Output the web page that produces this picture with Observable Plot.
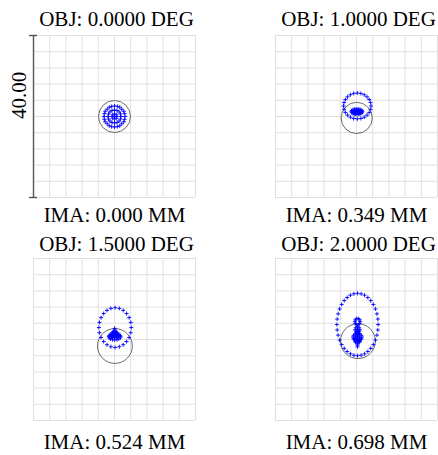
<!DOCTYPE html>
<html><head><meta charset="utf-8">
<script src="https://cdn.jsdelivr.net/npm/d3@7"></script>
<script src="https://cdn.jsdelivr.net/npm/@observablehq/plot@0.6"></script>
<style>
body{margin:0;background:#fff}
#wrap{position:relative;width:438px;height:455px;overflow:hidden;background:#fff}
#wrap svg{position:absolute;left:0;top:0}
#wrap svg text{font-family:'Liberation Serif','Times New Roman',serif}
</style></head><body><div id="wrap"></div>
<script>
// Field labels
const objLabels = ["OBJ: 0.0000 DEG", "OBJ: 1.0000 DEG", "OBJ: 1.5000 DEG", "OBJ: 2.0000 DEG"];
const imaLabels = ["IMA: 0.000 MM", "IMA: 0.349 MM", "IMA: 0.524 MM", "IMA: 0.698 MM"];
const scaleLabel = "40.00";
// grid ticks in µm (box = 40 µm)
const gridTicks = [-20, -16, -12, -8, -4, 0, 4, 8, 12, 16, 20];
// Airy circle centres and radii (µm)
const airyX = [0, 0.05, 0.1, 0.35];
const airyY = [0, -0.35, -1.6, -0.4];
const airyR = [3.95, 3.85, 4.3, 4.3];

// Spot points (µm)
const spot1 = [
 [2.6,0],[2.5,0.7],[2.3,1.3],[1.8,1.8],[1.3,2.3],[0.7,2.5],[0,2.6],[-0.7,2.5],[-1.3,2.3],[-1.8,1.8],[-2.3,1.3],[-2.5,0.7],
 [-2.6,0],[-2.5,-0.7],[-2.3,-1.3],[-1.8,-1.8],[-1.3,-2.3],[-0.7,-2.5],[0,-2.6],[0.7,-2.5],[1.3,-2.3],[1.8,-1.8],[2.3,-1.3],[2.5,-0.7],
 [1.6,0],[1.48,0.61],[1.13,1.13],[0.61,1.48],[0,1.6],[-0.61,1.48],[-1.13,1.13],[-1.48,0.61],
 [-1.6,0],[-1.48,-0.61],[-1.13,-1.13],[-0.61,-1.48],[0,-1.6],[0.61,-1.48],[1.13,-1.13],[1.48,-0.61],
 [0.6,0],[0.42,0.42],[0,0.6],[-0.42,0.42],[-0.6,0],[-0.42,-0.42],[0,-0.6],[0.42,-0.42],
 [0,0]
];
const spot2 = [
 [3.6,2.6],[3.48,3.43],[3.14,4.2],[2.6,4.86],[1.9,5.37],[1.08,5.69],[0.2,5.8],[-0.68,5.69],[-1.5,5.37],[-2.2,4.86],[-2.74,4.2],[-3.08,3.43],
 [-3.2,2.6],[-3.08,1.77],[-2.74,1.0],[-2.2,0.34],[-1.5,-0.17],[-0.68,-0.49],[0.2,-0.6],[1.08,-0.49],[1.9,-0.17],[2.6,0.34],[3.14,1.0],[3.48,1.77],
 [1.45,1.2],[1.35,1.48],[1.05,1.7],[0.62,1.85],[0.1,1.9],[-0.42,1.85],[-0.85,1.7],[-1.15,1.48],
 [-1.25,1.2],[-1.15,0.92],[-0.85,0.7],[-0.42,0.55],[0.1,0.5],[0.62,0.55],[1.05,0.7],[1.35,0.92],
 [0.8,1.0],[0.71,1.25],[0.45,1.45],[0.1,1.5],[-0.25,1.45],[-0.51,1.25],[-0.6,1.0],[-0.51,0.8],[-0.25,0.65],[0.45,0.65],[0.71,0.8],
 [0.4,1.1],[-0.2,1.1],[0.1,1.2]
];
const spot3 = [
 [4.15,2.95],[4.01,4.22],[3.61,5.4],[2.98,6.41],[2.15,7.19],[1.19,7.68],[0.15,7.85],[-0.89,7.68],[-1.85,7.19],[-2.68,6.41],[-3.31,5.4],[-3.71,4.22],
 [-3.85,2.95],[-3.71,1.68],[-3.31,0.5],[-2.68,-0.51],[-1.85,-1.29],[-0.89,-1.78],[0.15,-1.95],[1.19,-1.78],[2.15,-1.29],[2.98,-0.51],[3.61,0.5],[4.01,1.68],
 [1.5,0.7],[1.39,1.01],[1.08,1.27],[0.61,1.44],[0.05,1.5],[-0.51,1.44],[-0.98,1.27],[-1.29,1.01],
 [-1.4,0.7],[-1.29,0.39],[-0.98,0.13],[-0.51,-0.04],[0.05,-0.1],[0.61,-0.04],[1.08,0.13],[1.39,0.39],
 [0.9,1.1],[0.79,1.45],[0.48,1.71],[0.05,1.8],[-0.38,1.71],[-0.69,1.45],[-0.8,1.1],[-0.69,0.75],[-0.38,0.49],[0.05,0.4],[0.48,0.49],[0.79,0.75],
 [0.45,1.3],[0.33,1.58],[0.05,1.7],[-0.23,1.58],[-0.35,1.3],[-0.23,1.02],[0.05,0.9],[0.33,1.02],
 [0.05,2.75],[0.05,2.3],[-0.3,2.0],[0.4,2.0],[0.05,1.2],[0.05,0.7],[-0.6,0.6],[0.7,0.6]
];
const spot4 = [
 [5.35,3.7],[5.27,5.04],[5.04,6.33],[4.67,7.55],[4.16,8.65],[3.53,9.6],[2.8,10.37],[1.99,10.94],[1.14,11.28],
 [0.25,11.4],[-0.64,11.28],[-1.49,10.94],[-2.3,10.37],[-3.03,9.6],[-3.66,8.65],[-4.17,7.55],[-4.54,6.33],[-4.77,5.04],
 [-4.85,3.7],[-4.77,2.36],[-4.54,1.07],[-4.17,-0.15],[-3.66,-1.25],[-3.03,-2.2],[-2.3,-2.97],[-1.49,-3.54],[-0.64,-3.88],
 [0.25,-4.0],[1.14,-3.88],[1.99,-3.54],[2.8,-2.97],[3.53,-2.2],[4.16,-1.25],[4.67,-0.15],[5.04,1.07],[5.27,2.36],
 [0.9,4.4],[0.78,4.87],[0.45,5.16],[0.05,5.16],[-0.28,4.87],[-0.4,4.4],[-0.28,3.93],[0.05,3.64],[0.45,3.64],[0.78,3.93],
 [0.85,2.4],[0.67,2.9],[0.25,3.1],[-0.17,2.9],[-0.35,2.4],[-0.17,1.9],[0.25,1.7],[0.67,1.9],
 [1.35,0.6],[1.2,1.05],[0.8,1.38],[0.25,1.5],[-0.3,1.38],[-0.7,1.05],[-0.85,0.6],[-0.7,0.15],[-0.3,-0.18],[0.25,-0.3],[0.8,-0.18],[1.2,0.15],
 [0.75,0.3],[0.6,0.65],[0.25,0.8],[-0.1,0.65],[-0.25,0.3],[-0.1,-0.05],[0.25,-0.2],[0.6,-0.05],
 [0.25,-0.9],[0.25,-1.4],[-0.2,-0.7],[0.7,-0.7],
 [0.25,1.9],[0.25,1.2],[0.0,1.5],[0.5,1.5],
 [0.25,2.6],[0.25,2.2],[0.05,2.0],[0.45,2.0],[-0.1,1.2],[0.6,1.2],[0.25,0.3],[0.25,-0.5],
 [-0.5,0.0],[1.0,0.0],[-0.3,-0.45],[0.8,-0.45],[0.25,-1.1],[0.25,-1.8]
];
const spots = [spot1, spot2, spot3, spot4];

// layout (pixels) for each panel
const layout = [
  {ml: 33, mr: 243, mt: 35, mb: 258, objDy: -10, imaDy: 24.7, axis: true},
  {ml: 275, mr: 1, mt: 35, mb: 258, objDy: -10, imaDy: 24.7, axis: false},
  {ml: 33, mr: 243, mt: 258, mb: 35, objDy: -8, imaDy: 28, axis: false},
  {ml: 275, mr: 1, mt: 258, mb: 35, objDy: -8, imaDy: 28, axis: false}
];

const font = "'Liberation Serif', 'Times New Roman', serif";
const wrap = document.getElementById("wrap");

layout.forEach((L, i) => {
  const inner = 438 - L.ml - L.mr;
  const airy = [{x: airyX[i], y: airyY[i], r: airyR[i]}];
  const marks = [
    Plot.ruleX(gridTicks, {stroke: "#e0e0e0", strokeWidth: 1}),
    Plot.ruleY(gridTicks, {stroke: "#e0e0e0", strokeWidth: 1}),
    Plot.dot(airy, {x: "x", y: "y", r: "r", stroke: "#444", strokeWidth: 0.8, fill: "none"}),
    Plot.dot(spots[i], {x: d => d[0], y: d => d[1], symbol: "plus", r: 1.4, stroke: "#0000ff", strokeWidth: 0.9}),
    Plot.text([objLabels[i]], {text: d => d, frameAnchor: "top", dy: L.objDy, dx: 2, lineAnchor: "bottom", fontSize: 21, fontFamily: font, fill: "#000"}),
    Plot.text([imaLabels[i]], {text: d => d, frameAnchor: "bottom", dy: L.imaDy, lineAnchor: "bottom", fontSize: 21, fontFamily: font, fill: "#000"})
  ];
  if (L.axis) {
    marks.push(
      Plot.ruleX([-20], {stroke: "#555", strokeWidth: 1.4}),
      Plot.axisY({ticks: [-20, 20], tickSize: 8, dx: 4, tickFormat: () => "", label: null, stroke: "#555", strokeWidth: 1.4}),
      Plot.text([scaleLabel], {text: d => d, frameAnchor: "left", rotate: -90, dx: -7.5, dy: 2.5, lineAnchor: "bottom", fontSize: 21, fontFamily: font, fill: "#000"})
    );
  }
  const chart = Plot.plot({
    width: 438, height: 455,
    marginLeft: L.ml, marginRight: L.mr, marginTop: L.mt, marginBottom: L.mb,
    x: {domain: [-20, 20], axis: null},
    y: {domain: [-20, 20], axis: null},
    r: {type: "linear", domain: [0, 20], range: [0, inner / 2]},
    style: {background: "transparent", overflow: "visible"},
    marks
  });
  wrap.appendChild(chart);
});
</script></body></html>
